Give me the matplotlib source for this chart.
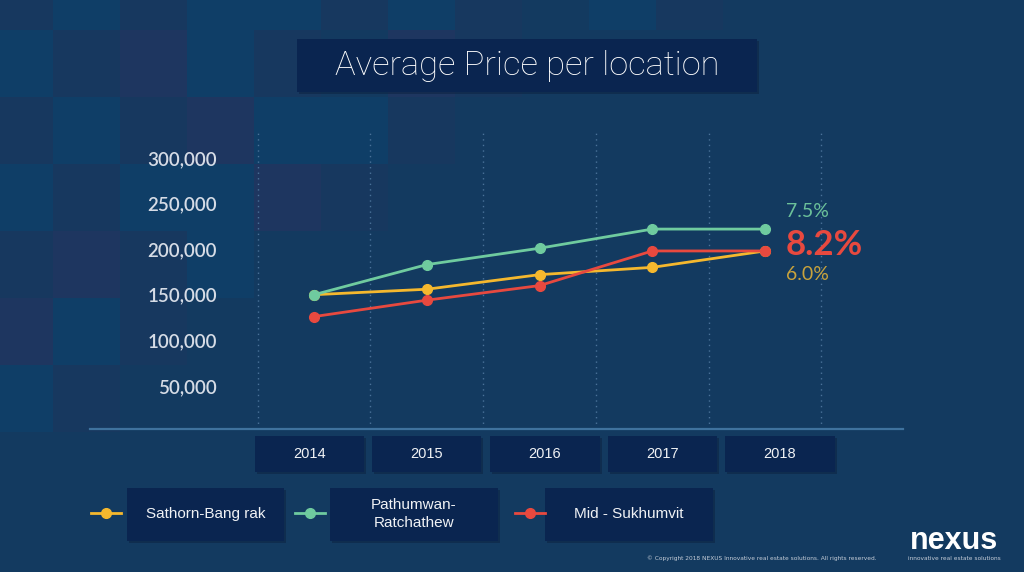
import numpy as np
import matplotlib
matplotlib.use("Agg")
import matplotlib.pyplot as plt
from matplotlib.patches import Rectangle
from matplotlib.colors import to_rgb

# ---------------- data ----------------
years = ["2014", "2015", "2016", "2017", "2018"]
sathorn = [150000, 156000, 172000, 180000, 198000]
pathumwan = [150000, 183000, 201000, 222000, 222000]
mid_sukhumvit = [126000, 144000, 160000, 198000, 198000]
series_names = ["Sathorn-Bang rak", "Pathumwan-\nRatchathew", "Mid - Sukhumvit"]
growth_labels = ["6.0%", "7.5%", "8.2%"]
y_ticks = [50000, 100000, 150000, 200000, 250000, 300000]
title = "Average Price per location"

# ---------------- style ----------------
BG = "#133a60"
BOX = "#0a2550"
C_YEL = "#f5b82e"
C_GRN = "#6fcb9f"
C_RED = "#e8493f"
SANS = ["Liberation Sans", "DejaVu Sans"]

W, H = 1024, 572
fig = plt.figure(figsize=(W / 100, H / 100), dpi=100)
fig.patch.set_facecolor(BG)

# background tiles (decoration)
palette = [to_rgb(BG), to_rgb("#0f3e67"), to_rgb("#17385f"), to_rgb("#1e3660")]
pattern = [
    [2, 1, 2, 1, 1, 2, 1, 2, 0, 1, 2, 0, 0, 0, 0, 0],
    [1, 2, 3, 1, 2, 0, 3, 2, 0, 0, 0, 0, 0, 0, 0, 0],
    [2, 1, 2, 3, 1, 1, 2, 0, 0, 0, 0, 0, 0, 0, 0, 0],
    [1, 2, 1, 1, 3, 2, 0, 0, 0, 0, 0, 0, 0, 0, 0, 0],
    [2, 3, 2, 1, 0, 0, 0, 0, 0, 0, 0, 0, 0, 0, 0, 0],
    [3, 1, 2, 0, 0, 0, 0, 0, 0, 0, 0, 0, 0, 0, 0, 0],
    [1, 2, 0, 0, 0, 0, 0, 0, 0, 0, 0, 0, 0, 0, 0, 0],
    [0, 0, 0, 0, 0, 0, 0, 0, 0, 0, 0, 0, 0, 0, 0, 0],
    [0, 0, 0, 0, 0, 0, 0, 0, 0, 0, 0, 0, 0, 0, 0, 0],
    [0, 0, 0, 0, 0, 0, 0, 0, 0, 0, 0, 0, 0, 0, 0, 0],
]
img = np.array([[palette[v] for v in row] for row in pattern])
bg = fig.add_axes([0, 0, 1, 1], zorder=0)
bg.imshow(img, extent=(-14, -14 + 67 * 16, -37 + 67 * 10, -37), interpolation="nearest", aspect="auto")
bg.set_xlim(0, W)
bg.set_ylim(H, 0)
bg.axis("off")

# ---------------- main chart ----------------
ax_l, ax_r, ax_t, ax_b = 90, 903, 130, 428.7
ax = fig.add_axes([ax_l / W, (H - ax_b) / H, (ax_r - ax_l) / W, (ax_b - ax_t) / H], zorder=2)
ax.set_facecolor("none")
unit = 112.75
x0 = 314
ax.set_xlim((ax_l - x0) / unit, (ax_r - x0) / unit)
ax.set_ylim(3000, 330700)

for k in range(len(years) + 1):
    ax.axvline(k - 0.5, color="#4a7299", lw=1.0, ls=(0, (1, 3)), zorder=1)

xs = np.arange(len(years))
series = [(sathorn, C_YEL), (pathumwan, C_GRN), (mid_sukhumvit, C_RED)]
for vals, c in series:
    ax.plot(xs, vals, color=c, lw=2, marker="o", ms=7, zorder=3)

for s in ["top", "right", "left"]:
    ax.spines[s].set_visible(False)
ax.spines["bottom"].set_color("#3f729e")
ax.spines["bottom"].set_linewidth(1.6)
ax.set_xticks([])
ax.set_yticks(y_ticks)
ax.set_yticklabels([f"{v:,}" for v in y_ticks])
ax.tick_params(axis="y", length=0, pad=-91.4, labelcolor="#d6dce6", labelsize=13.5)
for lab in ax.get_yticklabels():
    lab.set_fontfamily(["Lato", "DejaVu Sans"])
    lab.set_fontweight("semibold")

# growth annotations
ax.annotate(growth_labels[1], xy=(xs[-1], pathumwan[-1]), xytext=(15, 13), textcoords="offset points",
            color="#6cc19a", fontsize=14, va="center", ha="left", family=["Lato", "DejaVu Sans"])
ax.annotate(growth_labels[2], xy=(xs[-1], mid_sukhumvit[-1]), xytext=(15, 4), textcoords="offset points",
            color=C_RED, fontsize=25, fontweight="bold", va="center", ha="left", family=["Lato", "DejaVu Sans"])
ax.annotate(growth_labels[0], xy=(xs[-1], sathorn[-1]), xytext=(15, -17), textcoords="offset points",
            color="#c9a33c", fontsize=14, va="center", ha="left", family=["Lato", "DejaVu Sans"])

# ---------------- overlay decorations ----------------
ov = fig.add_axes([0, 0, 1, 1], zorder=3)
ov.set_xlim(0, W)
ov.set_ylim(H, 0)
ov.axis("off")


def box(x0_, y0_, x1_, y1_):
    ov.add_patch(Rectangle((x0_ + 2, y0_ + 2), x1_ - x0_, y1_ - y0_, color="#0c2140", alpha=0.5, lw=0))
    ov.add_patch(Rectangle((x0_, y0_), x1_ - x0_, y1_ - y0_, color=BOX, lw=0))


# title
box(297, 39, 757, 92)
ov.text(527, 66, title, color="white", fontsize=24.8, ha="center", va="center",
        family=["Roboto", "DejaVu Sans"], fontweight="light")

# year boxes
year_boxes = [(255, 364), (372, 481), (490, 600), (608, 717), (725, 835)]
for (a, b), yr in zip(year_boxes, years):
    box(a, 436, b, 472)
    ov.text((a + b) / 2, 454.5, yr, color="#f0f2f5", fontsize=10.5, ha="center", va="center", family=SANS)

# legend
leg_boxes = [(127, 284), (330, 498), (545, 713)]
leg_marks = [106, 310, 530]
for (a, b), mx, name, (vals, c) in zip(leg_boxes, leg_marks, series_names, series):
    box(a, 488, b, 541)
    ov.plot([mx - 15, mx + 15], [513, 513], color=c, lw=2)
    ov.plot([mx], [513], color=c, marker="o", ms=7)
    ov.text((a + b) / 2, 514, name, color="#f0f2f5", fontsize=11, ha="center", va="center",
            family=SANS, linespacing=1.35)

# footer
ov.text(647, 558, "\u00a9 Copyright 2018 NEXUS Innovative real estate solutions. All rights reserved.",
        color="#c5cdd8", fontsize=4.2, ha="left", va="center")
ov.text(954, 541, "nexus", color="white", fontsize=22, fontweight="bold", ha="center", va="center",
        family=["Liberation Sans", "DejaVu Sans"])
ov.text(954, 558, "innovative real estate solutions", color="#c5cdd8", fontsize=4.2, ha="center", va="center")

fig.savefig("out.png", dpi=100, facecolor=fig.get_facecolor())
